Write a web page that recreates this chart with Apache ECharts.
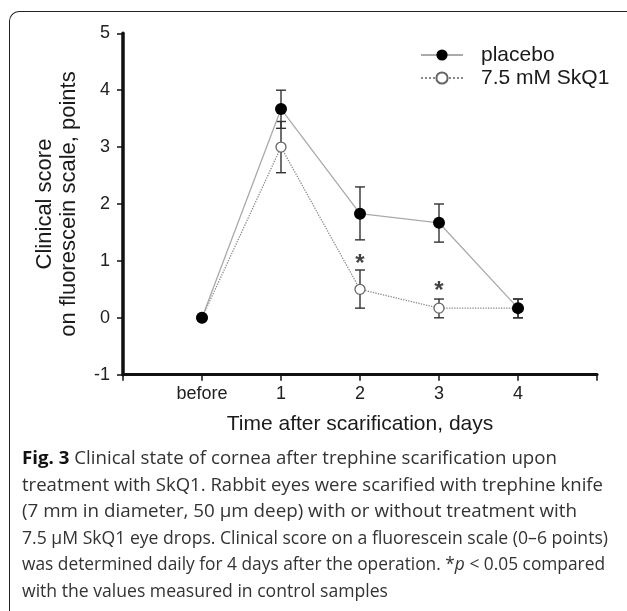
<!DOCTYPE html>
<html>
<head>
<meta charset="utf-8">
<script src="https://cdn.jsdelivr.net/npm/echarts@6/dist/echarts.min.js"></script>
<style>
  html, body { margin: 0; padding: 0; background: #fff; }
  #wrap { position: relative; width: 627px; height: 611px; overflow: hidden; }
  #chart { position: absolute; left: 0; top: 0; width: 627px; height: 611px; }
  #frame { position: absolute; left: 9px; top: 11px; width: 700px; height: 700px;
           border-left: 1.5px solid #222; border-top: 1.5px solid #222; border-top-left-radius: 10px; }
  #caption { position: absolute; left: 22px; top: 444px; width: 620px;
             font-family: "Open Sans", sans-serif; font-size: 18px; line-height: 26.6px; color: #333; white-space: nowrap; }
  #caption .ln { display: block; height: 26.6px; }
  #caption .ln span { display: inline-block; transform-origin: 0 50%; }
  #caption b { color: #111; }
</style>
</head>
<body>
<div id="wrap">
  <div id="frame"></div>
  <div id="chart"></div>
  <div id="caption">
    <div class="ln"><span><b>Fig. 3</b> Clinical state of cornea after trephine scarification upon</span></div>
    <div class="ln"><span>treatment with SkQ1. Rabbit eyes were scarified with trephine knife</span></div>
    <div class="ln"><span>(7 mm in diameter, 50 μm deep) with or without treatment with</span></div>
    <div class="ln"><span>7.5 μM SkQ1 eye drops. Clinical score on a fluorescein scale (0–6 points)</span></div>
    <div class="ln"><span>was determined daily for 4 days after the operation. *<i>p</i> &lt; 0.05 compared</span></div>
    <div class="ln"><span>with the values measured in control samples</span></div>
  </div>
</div>
<script>
// ---- data ----
const categories = ['before', '1', '2', '3', '4'];
const placeboMean = [0, 3.67, 1.83, 1.67, 0.17];
const placeboLow  = [0, 3.33, 1.37, 1.33, 0.0];
const placeboHigh = [0, 4.00, 2.30, 2.00, 0.33];
const skq1Mean = [0, 3.00, 0.50, 0.17, 0.17];
const skq1Low  = [0, 2.55, 0.17, 0.00, 0.00];
const skq1High = [0, 3.45, 0.84, 0.33, 0.33];
const sigCategories = ['2', '3'];
const sigValues = [1.04, 0.57];
const seriesNames = ['placebo', '7.5 mM SkQ1'];

// layout: right edge (px) of each caption line in the reference
const captionLineRight = [557, 603, 577, 608, 605, 388];

// category -> x position (value axis with an empty slot at each end)
const xPos = c => categories.indexOf(c) + 1;
function pts(mean) { return categories.map((c, i) => [xPos(c), mean[i]]); }
function bars(low, high) { return categories.map((c, i) => [xPos(c), low[i], high[i]]); }

function errRender(params, api) {
  const x = api.value(0), lo = api.value(1), hi = api.value(2);
  if (lo === hi) return null;
  const top = api.coord([x, hi]);
  const bot = api.coord([x, lo]);
  const w = 5;
  const st = { stroke: '#333', lineWidth: 1.4 };
  return { type: 'group', children: [
    { type: 'line', shape: { x1: top[0], y1: top[1], x2: bot[0], y2: bot[1] }, style: st },
    { type: 'line', shape: { x1: top[0] - w, y1: top[1], x2: top[0] + w, y2: top[1] }, style: st },
    { type: 'line', shape: { x1: bot[0] - w, y1: bot[1], x2: bot[0] + w, y2: bot[1] }, style: st }
  ]};
}

const FONT = '"Liberation Sans", Arial, sans-serif';
const chart = echarts.init(document.getElementById('chart'), null, { renderer: 'canvas' });
chart.setOption({
  animation: false,
  backgroundColor: 'transparent',
  grid: { left: 123, right: 30, top: 33.3, bottom: 236.3 },
  legend: {
    left: 415, top: 38.5, orient: 'vertical', itemGap: 0, padding: 5,
    itemWidth: 42, itemHeight: 14,
    data: seriesNames,
    textStyle: { fontFamily: FONT, fontSize: 21, color: '#1a1a1a', lineHeight: 23, padding: [0, 0, 0, 13] }
  },
  xAxis: {
    type: 'value', min: 0, max: categories.length + 1, interval: 1,
    axisLine: { onZero: false, lineStyle: { color: '#111', width: 3.2 } },
    axisTick: { show: true, length: 6, lineStyle: { color: '#111', width: 1.5 } },
    splitLine: { show: false },
    axisLabel: {
      margin: 10, fontFamily: FONT, fontSize: 18, color: '#222',
      formatter: v => (v >= 1 && v <= categories.length) ? categories[v - 1] : ''
    },
    name: 'Time after scarification, days', nameLocation: 'middle', nameGap: 39,
    nameTextStyle: { fontFamily: FONT, fontSize: 21, color: '#1a1a1a' }
  },
  yAxis: {
    type: 'value', min: -1, max: 5, interval: 1,
    axisLine: { show: true, lineStyle: { color: '#111', width: 3.5 } },
    axisTick: { show: true, length: 6, lineStyle: { color: '#111', width: 1.5 } },
    splitLine: { show: false },
    axisLabel: { margin: 13, fontFamily: FONT, fontSize: 18, color: '#222' },
    name: 'Clinical score\non fluorescein scale, points', nameLocation: 'middle', nameGap: 42,
    nameRotate: 90,
    nameTextStyle: { fontFamily: FONT, fontSize: 22, color: '#1a1a1a', lineHeight: 24 }
  },
  series: [
    { type: 'custom', name: 'placebo-err', renderItem: errRender, data: bars(placeboLow, placeboHigh),
      encode: { x: 0, y: [1, 2] }, z: 1, silent: true },
    { type: 'custom', name: 'skq1-err', renderItem: errRender, data: bars(skq1Low, skq1High),
      encode: { x: 0, y: [1, 2] }, z: 1, silent: true },
    { type: 'line', name: seriesNames[1], data: pts(skq1Mean), z: 2,
      symbol: 'circle', symbolSize: 10, showAllSymbol: true,
      lineStyle: { color: '#888', width: 1.3, type: 'dotted' },
      itemStyle: { color: '#fff', borderColor: '#666', borderWidth: 1.3 } },
    { type: 'line', name: seriesNames[0], data: pts(placeboMean), z: 3,
      symbol: 'circle', symbolSize: 12, showAllSymbol: true,
      lineStyle: { color: '#aaa', width: 1.3 },
      itemStyle: { color: '#000', borderColor: '#000', borderWidth: 0 } },
    { type: 'scatter', name: 'significance', data: sigCategories.map((c, i) => [xPos(c), sigValues[i]]),
      symbolSize: 0.01, z: 4, silent: true,
      label: { show: true, position: 'inside', formatter: '*', offset: [0, 6],
               fontFamily: FONT, fontSize: 24, fontWeight: 'bold', color: '#111' } }
  ]
});

// fit each caption line to its reference width
const capLeft = document.getElementById('caption').offsetLeft;
document.querySelectorAll('#caption .ln span').forEach((s, i) => {
  const w = s.getBoundingClientRect().width;
  const target = captionLineRight[i] - capLeft;
  s.style.transform = 'scaleX(' + (target / w).toFixed(4) + ')';
});
</script>
</body>
</html>
